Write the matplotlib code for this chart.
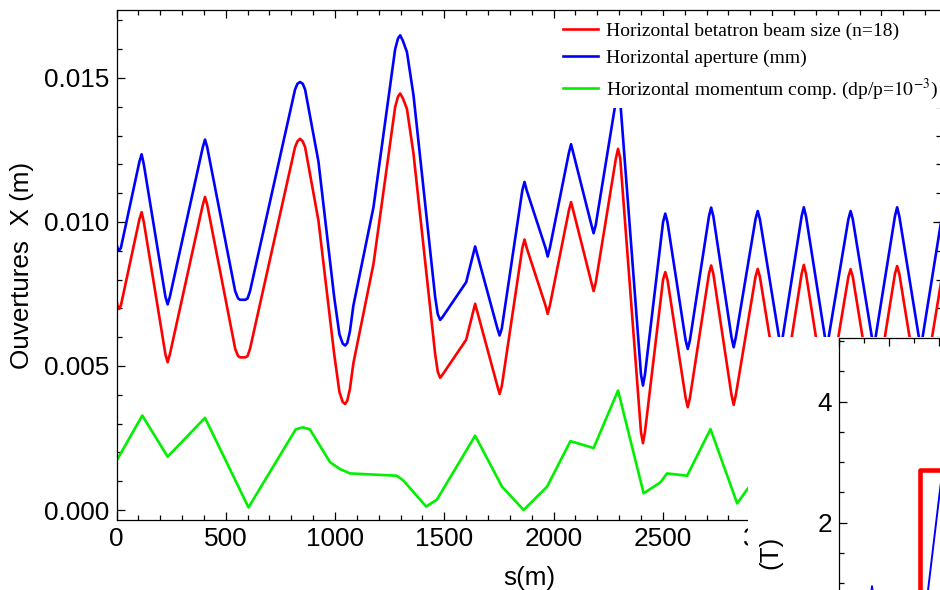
import numpy as np
import matplotlib
matplotlib.use('Agg')
import matplotlib.pyplot as plt
from matplotlib.patches import Rectangle
from matplotlib.ticker import MultipleLocator, FormatStrFormatter

plt.rcParams['font.family'] = ['Liberation Sans', 'DejaVu Sans']
plt.rcParams['mathtext.fontset'] = 'stix'

# abscisse curviligne (m) pour la taille du faisceau et l'ouverture
s_beam = [0, 6, 12, 20, 105, 115, 125, 224, 234, 244, 395, 405, 415, 543, 556,
          565, 590, 600, 611, 817, 828, 840, 852, 863, 924, 996, 1020, 1035,
          1046, 1056, 1068, 1084, 1176, 1275, 1288, 1298, 1310, 1329, 1359,
          1458, 1470, 1481, 1492, 1600, 1641, 1743, 1753, 1763, 1857, 1867,
          1877, 1963, 1973, 1983, 2070, 2080, 2090, 2173, 2183, 2193, 2285,
          2295, 2305, 2400, 2409, 2418, 2501, 2511, 2521, 2604, 2614, 2624,
          2711, 2721, 2731, 2814, 2824, 2834, 2924, 2934, 2944, 3040, 3135,
          3145, 3155, 3250, 3349, 3359, 3369, 3465, 3562, 3572, 3582, 3680,
          3775]
beam_size = [0.00727, 0.00705, 0.00698, 0.0071, 0.0101, 0.01034, 0.0100,
             0.0054, 0.00513, 0.0054, 0.0106, 0.01087, 0.0106, 0.0056,
             0.00535, 0.0053, 0.0053, 0.00535, 0.0056, 0.0126, 0.0128,
             0.01289, 0.0128, 0.0126, 0.01005, 0.00542, 0.0041, 0.00375,
             0.00368, 0.0038, 0.0042, 0.0051, 0.00855, 0.01399, 0.01435,
             0.01446, 0.0143, 0.01393, 0.01237, 0.00542, 0.0048, 0.00459,
             0.0047, 0.00591, 0.00716, 0.0043, 0.00403, 0.0043, 0.0091,
             0.00939, 0.0091, 0.0071, 0.00681, 0.0071, 0.0104, 0.01069,
             0.0104, 0.0079, 0.0076, 0.0079, 0.0122, 0.01254, 0.0122,
             0.0027, 0.00232, 0.0027, 0.0080, 0.00826, 0.0080, 0.0039,
             0.00357, 0.0039, 0.0082, 0.00849, 0.0082, 0.0040, 0.00365,
             0.0040, 0.0081, 0.00837, 0.0081, 0.0036, 0.0082, 0.00851,
             0.0082, 0.0036, 0.0081, 0.00836, 0.0081, 0.0036, 0.0082,
             0.00847, 0.0082, 0.0036, 0.0080]
aperture = [0.00924, 0.00905, 0.00901, 0.0091, 0.0121, 0.01235, 0.0120,
            0.0074, 0.00714, 0.0074, 0.0126, 0.01286, 0.0126, 0.0076,
            0.00735, 0.0073, 0.0073, 0.00735, 0.0076, 0.0146, 0.0148,
            0.01486, 0.0148, 0.0146, 0.0121, 0.0074, 0.0061, 0.00578,
            0.00571, 0.0058, 0.0062, 0.0071, 0.01052, 0.0160, 0.01637,
            0.01648, 0.0163, 0.0159, 0.0144, 0.0074, 0.0068, 0.0066,
            0.0067, 0.00791, 0.00915, 0.0063, 0.00606, 0.0063, 0.0111,
            0.01139, 0.0111, 0.0091, 0.0088, 0.0091, 0.0124, 0.0127,
            0.0124, 0.0099, 0.00961, 0.0099, 0.0142, 0.0145, 0.0142,
            0.0047, 0.00432, 0.0047, 0.0100, 0.01029, 0.0100, 0.0059,
            0.00559, 0.0059, 0.0102, 0.0105, 0.0102, 0.0060, 0.00565,
            0.0060, 0.0101, 0.01038, 0.0101, 0.0056, 0.0102, 0.01051,
            0.0102, 0.0056, 0.0101, 0.01038, 0.0101, 0.0056, 0.0102,
            0.01051, 0.0102, 0.0056, 0.0101]

# contribution de la dispersion (dp/p = 1e-3)
s_mom = [0, 118, 234, 405, 604, 820, 852, 885, 977, 1023, 1069, 1283, 1313,
         1417, 1466, 1641, 1764, 1863, 1970, 2077, 2122, 2183, 2295, 2412,
         2489, 2519, 2611, 2718, 2840, 2893, 2960]
momentum = [0.00171, 0.00328, 0.00185, 0.0032, 0.00009, 0.0028, 0.00287,
            0.0028, 0.00166, 0.00142, 0.00127, 0.00119, 0.00102, 0.00012,
            0.00036, 0.00258, 0.00081, 0.0, 0.00081, 0.00239, 0.00229,
            0.00215, 0.00415, 0.00058, 0.00096, 0.00127, 0.00119, 0.00281,
            0.00023, 0.00079, 0.0014]

legend_labels = ['Horizontal betatron beam size (n=18)',
                 'Horizontal aperture (mm)',
                 'Horizontal momentum comp. (dp/p=$10^{-3}$)']

# encart : champ magnetique (T)
s_dip = [0, 162, 162, 400]
b_dip = [0, 0, 2.87, 2.87]
s_b = [0, 55, 66, 77, 170, 178, 202, 215]
b_b = [0.2, 0.2, 0.95, 0.2, 0.2, 0.88, 2.54, 3.4]
b_ticks = [2, 4]

W, H = 940, 590
fig = plt.figure(figsize=(W / 100, H / 100), dpi=100)
ax = fig.add_axes([116.5 / W, 70 / H, 825 / W, 510 / H])

lw = 1.9
ax.plot(s_beam, beam_size, color='#ff0000', lw=lw, label=legend_labels[0], solid_joinstyle='round')
ax.plot(s_beam, aperture, color='#0000ff', lw=lw, label=legend_labels[1], solid_joinstyle='round')
ax.plot(s_mom, momentum, color='#00f000', lw=lw, label=legend_labels[2], solid_joinstyle='round')

ax.set_xlim(0, 3775)
ax.set_ylim(-0.000347, 0.01736)
ax.xaxis.set_major_locator(MultipleLocator(500))
ax.xaxis.set_minor_locator(MultipleLocator(100))
ax.yaxis.set_major_locator(MultipleLocator(0.005))
ax.yaxis.set_minor_locator(MultipleLocator(0.001))
ax.yaxis.set_major_formatter(FormatStrFormatter('%.3f'))
ax.tick_params(which='both', direction='in', top=True, right=True, width=0.9,
               labelsize=18.8, pad=5)
ax.tick_params(which='major', length=6)
ax.tick_params(which='minor', length=3.5)
for sp in ax.spines.values():
    sp.set_linewidth(0.9)

ax.set_xlabel('s(m)', fontsize=18.8, labelpad=11)
ax.set_ylabel('Ouvertures  X (m)', fontsize=18.8, labelpad=7)

leg = ax.legend(loc='upper left', bbox_to_anchor=(557 / W, 1 - 16 / H),
                bbox_transform=fig.transFigure, frameon=True, fancybox=False,
                framealpha=1, edgecolor='none', borderpad=0.3, borderaxespad=0,
                handlelength=1.8, handletextpad=0.4, labelspacing=0.5,
                prop={'family': ['Liberation Serif'], 'size': 14})

# cache blanc sous l'encart
fig.add_artist(Rectangle((748 / W, 0), 0.3, (590 - 337) / H,
                         transform=fig.transFigure, facecolor='white',
                         edgecolor='none', zorder=1))

ax2 = fig.add_axes([839 / W, -60 / H, 461 / W, 312 / H])
ax2.set_zorder(2)
ax2.plot(s_dip, b_dip, color='#ff0000', lw=3.3)
ax2.plot(s_b, b_b, color='#0000ff', lw=1.4)
ax2.set_xlim(0, 922)
ax2.set_ylim(-0.104, 5.053)
ax2.xaxis.set_major_locator(MultipleLocator(100))
ax2.xaxis.set_minor_locator(MultipleLocator(50))
ax2.set_yticks(b_ticks)
ax2.yaxis.set_minor_locator(MultipleLocator(0.5))
ax2.tick_params(which='both', direction='in', top=True, width=0.9,
                labelsize=18.8, pad=5, labelbottom=False)
ax2.tick_params(which='major', length=6)
ax2.tick_params(which='minor', length=3.5)
for sp in ax2.spines.values():
    sp.set_linewidth(0.9)
fig.text(770 / W, 1 - 552 / H, '(T)', rotation=90, ha='center', va='center',
         fontsize=18.8, zorder=3)

fig.savefig('out.png', dpi=100)
